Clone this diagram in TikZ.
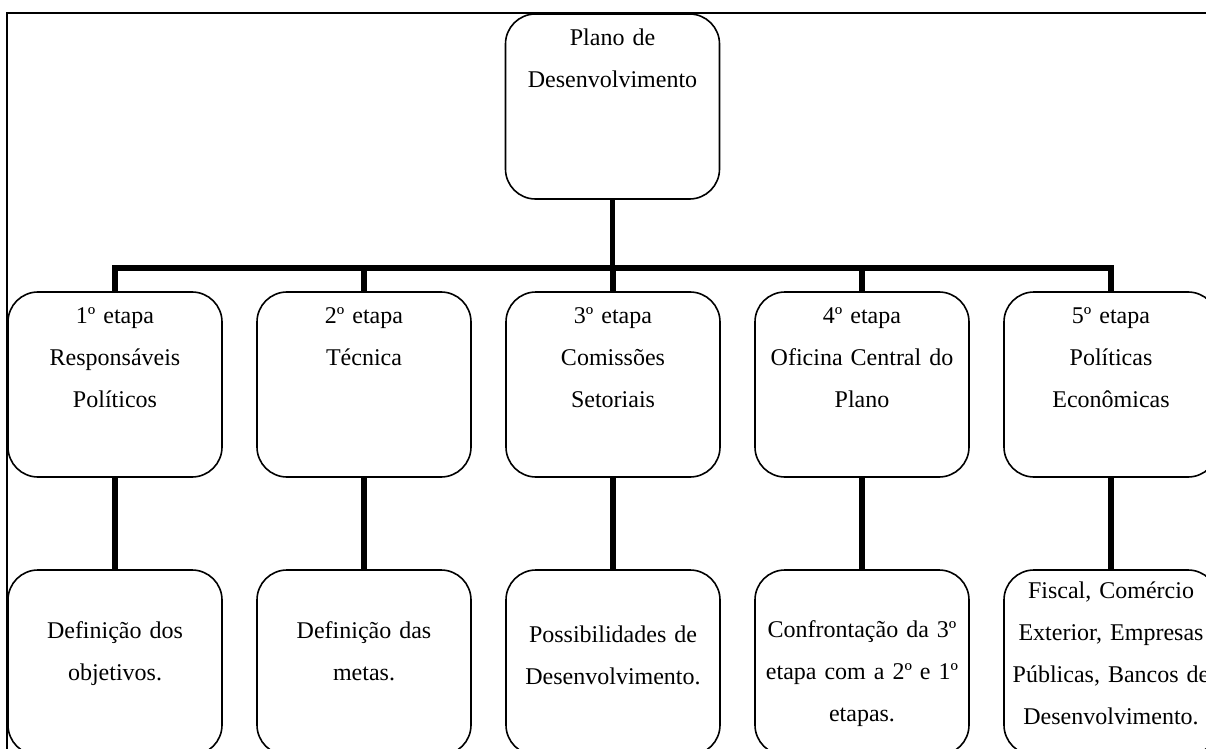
\documentclass[tikz,border=0pt]{standalone}
\usepackage{fontspec}
\setmainfont{Liberation Serif}
\begin{document}
\begin{tikzpicture}[x=0.5pt,y=-0.5pt,
	caixa/.style={draw, line width=0.8pt, rounded corners=15pt, minimum width=107pt, minimum height=92.5pt, inner sep=0pt},
	texto/.style={anchor=base, align=center, text width=112pt, inner sep=0pt, font=\fontsize{12}{21}\selectfont},
	tronco/.style={line width=2.8pt}]
	\useasboundingbox (0,0) rectangle (1206,749);
	\clip (0,0) rectangle (1206,749);
	\draw[line width=0.8pt] (7,13) rectangle (1240,790);
	% plano
	\node[caixa] (plano) at (612.5,106.5) {};
	\node[texto] (tplano) at ([yshift=-16pt]plano.north) {Plano de\\Desenvolvimento};
	% etapas
	\node[caixa] (e1) at (115,384.5) {};
	\node[caixa] (e2) at (364,384.5) {};
	\node[caixa] (e3) at (613,384.5) {};
	\node[caixa] (e4) at (862,384.5) {};
	\node[caixa] (e5) at (1111,384.5) {};
	\node[texto] (te1) at ([yshift=-16pt]e1.north) {1º etapa\\Responsáveis\\Políticos};
	\node[texto] (te2) at ([yshift=-16pt]e2.north) {2º etapa\\Técnica};
	\node[texto] (te3) at ([yshift=-16pt]e3.north) {3º etapa\\Comissões\\Setoriais};
	\node[texto] (te4) at ([yshift=-16pt]e4.north) {4º etapa\\Oficina Central do\\Plano};
	\node[texto] (te5) at ([yshift=-16pt]e5.north) {5º etapa\\Políticas\\Econômicas};
	% resultados
	\node[caixa] (r1) at (115,662.5) {};
	\node[caixa] (r2) at (364,662.5) {};
	\node[caixa] (r3) at (613,662.5) {};
	\node[caixa] (r4) at (862,662.5) {};
	\node[caixa] (r5) at (1111,662.5) {};
	\node[texto] (tr1) at ([yshift=-34.5pt]r1.north) {Definição dos\\objetivos.};
	\node[texto] (tr2) at ([yshift=-34.5pt]r2.north) {Definição das\\metas.};
	\node[texto] (tr3) at ([yshift=-36.5pt]r3.north) {Possibilidades de\\Desenvolvimento.};
	\node[texto] (tr4) at ([yshift=-34pt]r4.north) {Confrontação da 3º\\etapa com a 2º e 1º\\etapas.};
	\node[texto] (tr5) at ([yshift=-14.5pt]r5.north) {Fiscal, Comércio\\Exterior, Empresas\\Públicas, Bancos de\\Desenvolvimento.};
	% ligacoes
	\coordinate (barra) at (613,268);
	\draw[tronco] (plano.south) -- (plano.south |- barra);
	\draw[tronco] (e1.north) -- (e1.north |- barra) -- (e5.north |- barra) -- (e5.north);
	\draw[tronco] (e2.north) -- (e2.north |- barra);
	\draw[tronco] (e3.north) -- (e3.north |- barra);
	\draw[tronco] (e4.north) -- (e4.north |- barra);
	\draw[tronco] (e1.south) -- (r1.north);
	\draw[tronco] (e2.south) -- (r2.north);
	\draw[tronco] (e3.south) -- (r3.north);
	\draw[tronco] (e4.south) -- (r4.north);
	\draw[tronco] (e5.south) -- (r5.north);
\end{tikzpicture}
\end{document}
